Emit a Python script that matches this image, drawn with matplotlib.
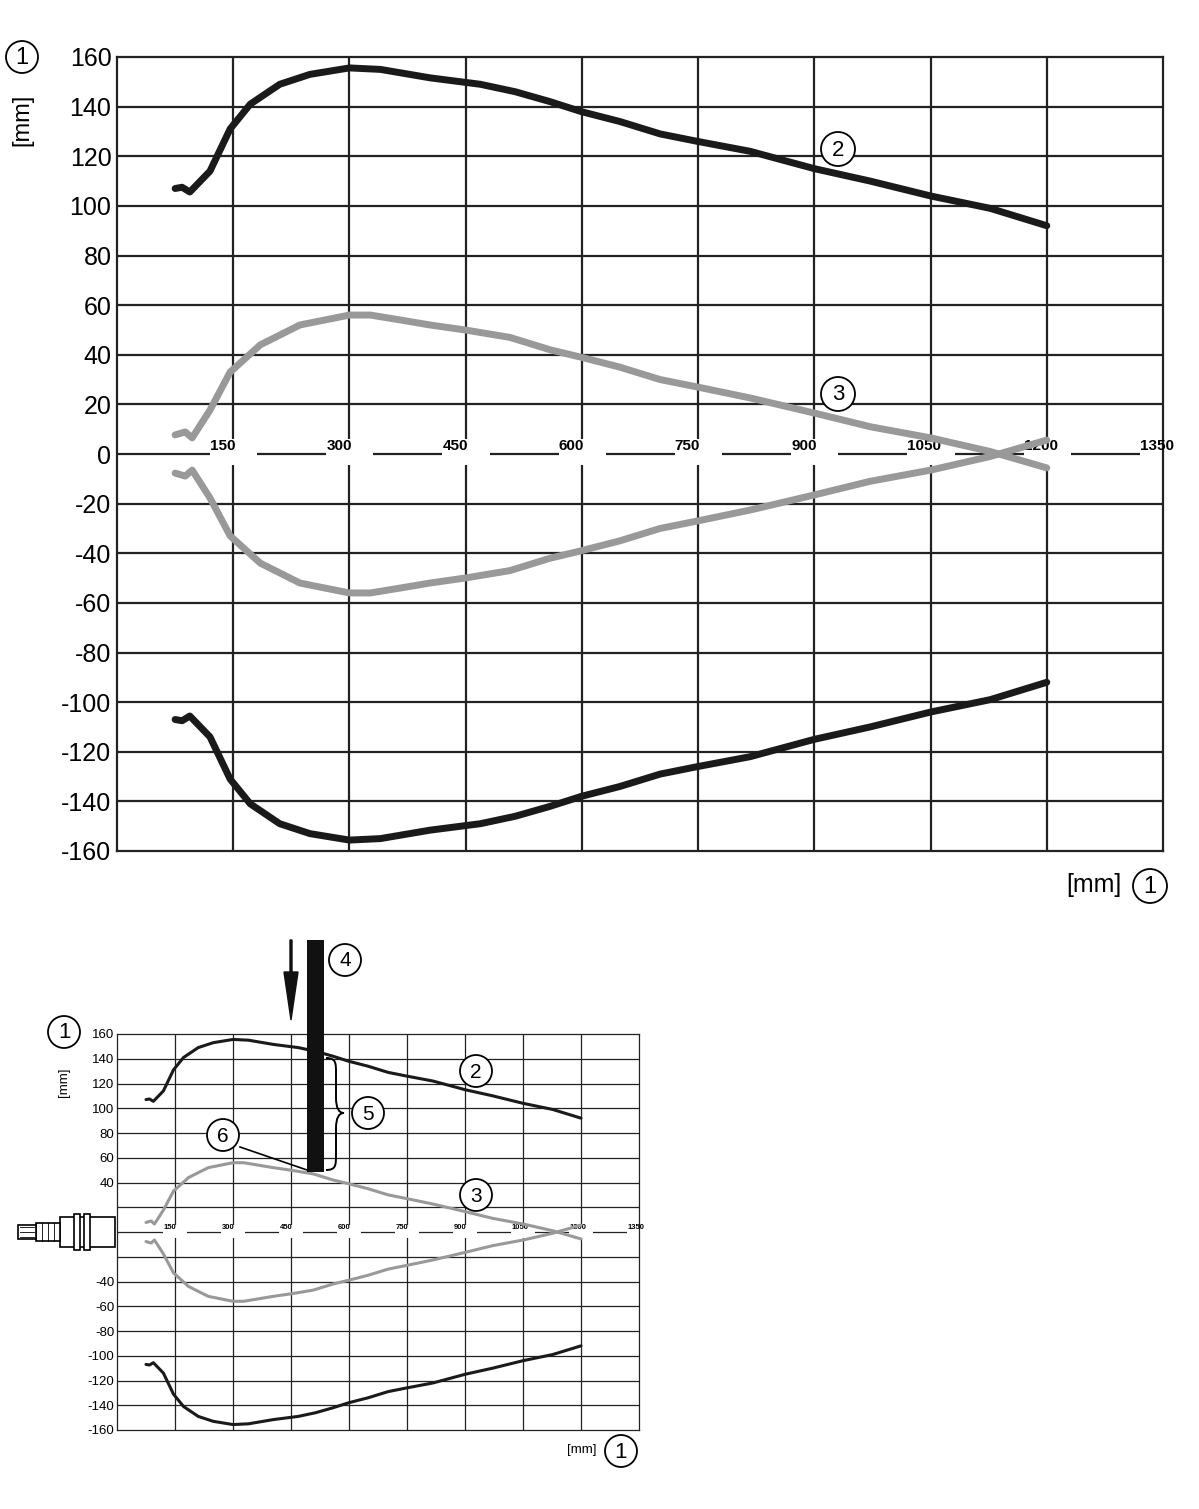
import matplotlib
matplotlib.use("Agg")
import matplotlib.pyplot as plt
from matplotlib.patches import Rectangle, Circle, FancyArrow, PathPatch
from matplotlib.path import Path
import numpy as np

W, H = 1199, 1509
x_ticks = [150, 300, 450, 600, 750, 900, 1050, 1200, 1350]
y_ticks_main = [160, 140, 120, 100, 80, 60, 40, 20, 0, -20, -40, -60, -80, -100, -120, -140, -160]
y_ticks_small = [160, 140, 120, 100, 80, 60, 40, -40, -60, -80, -100, -120, -140, -160]

# curve 2 (black, outer field) upper half, mirrored for lower
c2_x = [75, 84, 94, 120, 146, 172, 210, 249, 300, 340, 404, 469, 514, 559, 599, 649, 701, 749, 817, 900, 972, 1050, 1127, 1200]
c2_y = [107, 107.5, 105.6, 114, 131, 141, 149, 153, 155.6, 155, 151.6, 149, 146, 142, 138, 134, 129, 126, 122, 115, 110, 104, 99, 92]
# curve 3 (grey, inner field)
c3_x = [75, 88, 97, 120, 146, 185, 236, 300, 327, 366, 404, 449, 507, 559, 599, 649, 701, 749, 817, 900, 972, 1050, 1127, 1200]
c3_y = [7.7, 8.9, 6.5, 17.7, 33, 44, 52, 56, 56, 54, 52, 50, 47, 42, 39, 35, 30, 27, 22.6, 16.5, 11, 6.5, 1, -5.6]

fig = plt.figure(figsize=(W/100, H/100), dpi=100)
plt.rcParams['font.family'] = ['Liberation Sans', 'DejaVu Sans']
plt.rcParams['lines.solid_joinstyle'] = 'round'

def px_axes(l, t, r, b):
    return fig.add_axes([l/W, 1-b/H, (r-l)/W, (b-t)/H])

def draw_chart(ax, yticks, lw_c, lw_g, tick_fs, xl_fs, yfull):
    ax.set_xlim(0, 1350); ax.set_ylim(-160, 160)
    for s in ax.spines.values():
        s.set_linewidth(lw_g); s.set_color('#222')
    ax.set_xticks([]); ax.set_yticks(yticks)
    ax.set_yticklabels([str(v) for v in yticks], fontsize=tick_fs)
    ax.tick_params(axis='y', length=0, pad=4 if yfull else 2)
    for x in x_ticks[:-1]:
        ax.axvline(x, color='#222', lw=lw_g, zorder=1)
    for y in range(-140, 160, 20):
        ax.axhline(y, color='#222', lw=lw_g, zorder=1)
    for t in x_ticks:
        ax.add_patch(Rectangle((t-30, -4.5), 61, 10.5, facecolor='white', edgecolor='none', zorder=2, clip_on=False))
        ax.text(t-30, 0.6, str(t), fontsize=xl_fs, fontweight='bold', ha='left', va='bottom',
                zorder=3, clip_on=False, family=['Liberation Sans Narrow', 'Liberation Sans'])
    x2 = np.array(c2_x); y2 = np.array(c2_y)
    x3 = np.array(c3_x); y3 = np.array(c3_y)
    ax.plot(x2, y2, color='#1a1a1a', lw=lw_c, zorder=4, solid_capstyle='round')
    ax.plot(x2, -y2, color='#1a1a1a', lw=lw_c, zorder=4, solid_capstyle='round')
    ax.plot(x3, y3, color='#999999', lw=lw_c, zorder=4, solid_capstyle='round')
    ax.plot(x3, -y3, color='#999999', lw=lw_c, zorder=4, solid_capstyle='round')

ax1 = px_axes(117, 57, 1163, 851)
draw_chart(ax1, y_ticks_main, 5, 1.6, 18, 11, True)
ax2 = px_axes(117, 1034, 639, 1430)
draw_chart(ax2, y_ticks_small, 2.2, 0.9, 9.5, 5.5, False)

ov = fig.add_axes([0, 0, 1, 1], zorder=10)
ov.set_xlim(0, W); ov.set_ylim(H, 0); ov.axis('off'); ov.patch.set_alpha(0)

def circ(x, y, r, txt, fs):
    ov.add_patch(Circle((x, y), r, facecolor='white', edgecolor='black', lw=1.3))
    ov.text(x, y+1, txt, ha='center', va='center', fontsize=fs)

circ(22, 57, 16, '1', 17); ov.text(22, 120, '[mm]', rotation=90, ha='center', va='center', fontsize=17)
circ(838, 149, 17, '2', 16); circ(838, 394, 17, '3', 16)
ov.text(1122, 885, '[mm]', ha='right', va='center', fontsize=18); circ(1150, 886, 17, '1', 17)

# small chart annotations
circ(64, 1032, 16, '1', 16); ov.text(64, 1082, '[mm]', rotation=90, ha='center', va='center', fontsize=9.5)
ov.text(597, 1450, '[mm]', ha='right', va='center', fontsize=9.5); circ(621, 1451, 16, '1', 16)
circ(476, 1071, 16, '2', 15); circ(476, 1195, 16, '3', 15)
# object bar and arrow
ov.add_patch(Rectangle((307, 940), 17, 232, facecolor='#111', edgecolor='none'))
ov.add_patch(FancyArrow(291, 940, 0, 80, width=2, head_width=14, head_length=48, length_includes_head=True, color='#111'))
circ(345, 960, 16, '4', 15)
# brace
t, m, b = 1058, 1113, 1170
xl, xr, xm = 326, 336, 344
verts = [(xl, t), (xr, t), (xr, t+5), (xr, t+15),
         (xr, m-15), (xr, m), (xm, m),
         (xr, m), (xr, m+15), (xr, b-15),
         (xr, b-5), (xr, b), (xl, b)]
codes = [Path.MOVETO, Path.CURVE4, Path.CURVE4, Path.CURVE4,
         Path.LINETO, Path.CURVE3, Path.CURVE3,
         Path.CURVE3, Path.CURVE3, Path.LINETO,
         Path.CURVE4, Path.CURVE4, Path.CURVE4]
ov.add_patch(PathPatch(Path(verts, codes), facecolor='none', edgecolor='black', lw=1.4))
circ(368, 1113, 16, '5', 15)
circ(223, 1135, 16, '6', 15)
ov.plot([240, 307], [1147, 1170], color='black', lw=1.2)
# sensor
def rect(x0, x1, hh, lw=1.2):
    ov.add_patch(Rectangle((x0, 1232-hh), x1-x0, 2*hh, facecolor='white', edgecolor='black', lw=lw))
rect(60, 115, 15)
rect(74, 80, 18); rect(84, 90, 18)
rect(36, 60, 9)
rect(18, 36, 7)
for yy in (1227, 1232, 1237):
    ov.plot([20, 34], [yy, yy], color='black', lw=0.6)
for xx in (42, 48, 54):
    ov.plot([xx, xx], [1223, 1241], color='black', lw=0.6)

fig.savefig('out.png', dpi=100)
